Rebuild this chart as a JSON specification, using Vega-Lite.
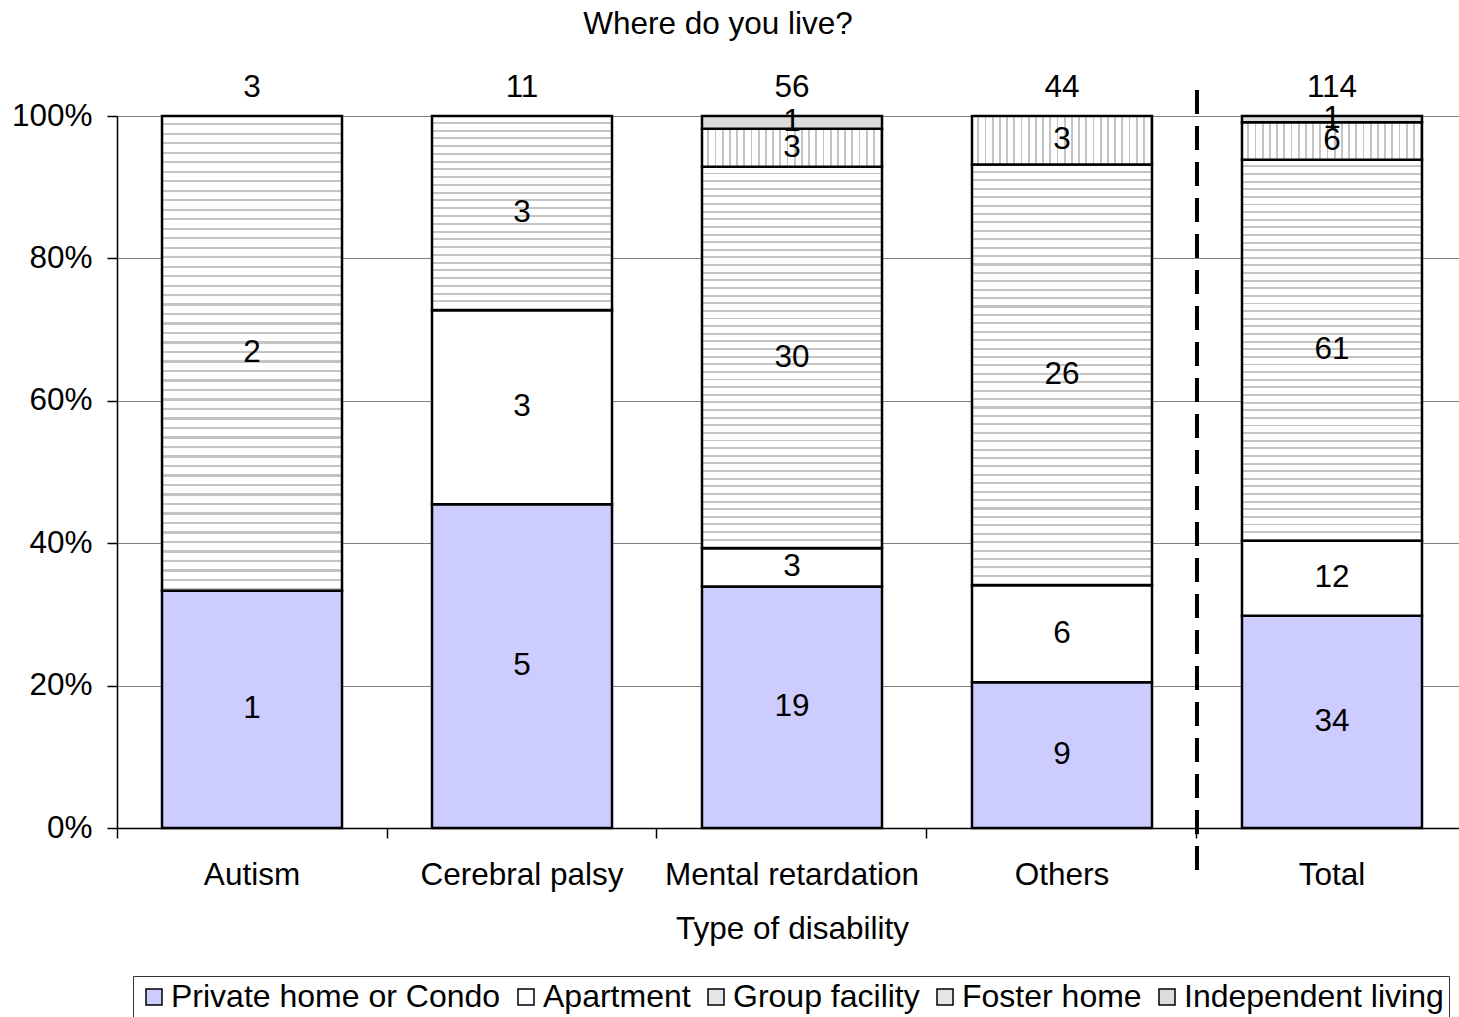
{
  "$schema": "https://vega.github.io/schema/vega-lite/v6.json",
  "autosize": {"type": "none"},
  "padding": {"left": 117, "top": 116, "right": 0, "bottom": 189},
  "width": 1342,
  "height": 712,
  "background": "white",
  "title": {
    "text": "Where do you live?",
    "fontSize": 31.5,
    "fontWeight": "normal",
    "color": "black",
    "anchor": "middle",
    "dx": -70,
    "offset": 32
  },
  "datasets": {
    "homes": [
      {"disability": "Autism", "residence": "Private home or Condo", "k": 1, "n": 1},
      {"disability": "Autism", "residence": "Group facility", "k": 3, "n": 2},
      {"disability": "Cerebral palsy", "residence": "Private home or Condo", "k": 1, "n": 5},
      {"disability": "Cerebral palsy", "residence": "Apartment", "k": 2, "n": 3},
      {"disability": "Cerebral palsy", "residence": "Group facility", "k": 3, "n": 3},
      {"disability": "Mental retardation", "residence": "Private home or Condo", "k": 1, "n": 19},
      {"disability": "Mental retardation", "residence": "Apartment", "k": 2, "n": 3},
      {"disability": "Mental retardation", "residence": "Group facility", "k": 3, "n": 30},
      {"disability": "Mental retardation", "residence": "Foster home", "k": 4, "n": 3},
      {"disability": "Mental retardation", "residence": "Independent living", "k": 5, "n": 1},
      {"disability": "Others", "residence": "Private home or Condo", "k": 1, "n": 9},
      {"disability": "Others", "residence": "Apartment", "k": 2, "n": 6},
      {"disability": "Others", "residence": "Group facility", "k": 3, "n": 26},
      {"disability": "Others", "residence": "Foster home", "k": 4, "n": 3},
      {"disability": "Total", "residence": "Private home or Condo", "k": 1, "n": 34},
      {"disability": "Total", "residence": "Apartment", "k": 2, "n": 12},
      {"disability": "Total", "residence": "Group facility", "k": 3, "n": 61},
      {"disability": "Total", "residence": "Foster home", "k": 4, "n": 6},
      {"disability": "Total", "residence": "Independent living", "k": 5, "n": 1}
    ],
    "divider": [{"disability": "Total"}]
  },
  "data": {"name": "homes"},
  "layer": [
    {
      "transform": [
        {"stack": "n", "groupby": ["disability"], "sort": [{"field": "k", "order": "ascending"}], "offset": "normalize", "as": ["lo", "hi"]}
      ],
      "mark": {"type": "bar", "stroke": "black", "strokeWidth": 2.5},
      "encoding": {
        "x": {
          "field": "disability",
          "type": "nominal",
          "title": "Type of disability",
          "scale": {
            "domain": ["Autism", "Cerebral palsy", "Mental retardation", "Others", "Total"],
            "range": [0, 1350],
            "paddingInner": 0.3333,
            "paddingOuter": 0.1667
          },
          "axis": {
            "labelAngle": 0,
            "labelFontSize": 31.5,
            "labelColor": "black",
            "labelPadding": 21,
            "labelLimit": 400,
            "bandPosition": -0.25,
            "tickSize": 10,
            "tickColor": "black",
            "tickWidth": 1.5,
            "domainColor": "black",
            "domainWidth": 1.5,
            "titleFontSize": 31.5,
            "titleFontWeight": "normal",
            "titleColor": "black",
            "titlePadding": 23
          }
        },
        "y": {
          "field": "lo",
          "type": "quantitative",
          "scale": {"domain": [0, 1], "nice": false},
          "axis": {
            "values": [0, 0.2, 0.4, 0.6, 0.8, 1],
            "format": ".0%",
            "title": null,
            "labelFontSize": 31.5,
            "labelColor": "black",
            "labelPadding": 15,
            "labelFlush": false,
            "tickSize": 10,
            "tickColor": "black",
            "tickWidth": 1.5,
            "domainColor": "black",
            "domainWidth": 1.5,
            "grid": true,
            "gridColor": "#808080",
            "gridWidth": 1
          }
        },
        "y2": {"field": "hi"},
        "fill": {
          "field": "residence",
          "type": "nominal",
          "scale": {
            "domain": ["Private home or Condo", "Apartment", "Group facility", "Foster home", "Independent living"],
            "range": ["#CCCCFF", "#FFFFFF", "#e6e6e6", "#e6e6e6", "#dcdcdc"]
          },
          "legend": {
            "title": null,
            "orient": "none",
            "legendX": 16,
            "legendY": 860,
            "direction": "horizontal",
            "columns": 5,
            "strokeColor": "#333",
            "padding": 5,
            "columnPadding": 9,
            "labelOffset": 1,
            "symbolSize": 256,
            "symbolType": "square",
            "labelFontSize": 32,
            "labelColor": "black",
            "labelLimit": 0,
            "encode": {
              "symbols": {
                "stroke": {"value": "black"},
                "strokeWidth": {"value": 1.5},
                "fill": {
                  "condition": [
                    {"test": "datum.value === 'Private home or Condo'", "value": "#CCCCFF"},
                    {"test": "datum.value === 'Independent living'", "value": "#d4d4d4"},
                    {
                      "test": "datum.value === 'Group facility'",
                      "value": {"gradient": "linear", "x1": 0, "y1": 0, "x2": 0, "y2": 1, "stops": [
                        {"offset": 0.2, "color": "#fff"}, {"offset": 0.2, "color": "#b8b8b8"}, {"offset": 0.33, "color": "#b8b8b8"}, {"offset": 0.33, "color": "#fff"},
                        {"offset": 0.53, "color": "#fff"}, {"offset": 0.53, "color": "#b8b8b8"}, {"offset": 0.67, "color": "#b8b8b8"}, {"offset": 0.67, "color": "#fff"},
                        {"offset": 0.87, "color": "#fff"}, {"offset": 0.87, "color": "#b8b8b8"}, {"offset": 1, "color": "#b8b8b8"}
                      ]}
                    },
                    {
                      "test": "datum.value === 'Foster home'",
                      "value": {"gradient": "linear", "x1": 0, "y1": 0, "x2": 1, "y2": 0, "stops": [
                        {"offset": 0.2, "color": "#fff"}, {"offset": 0.2, "color": "#b8b8b8"}, {"offset": 0.33, "color": "#b8b8b8"}, {"offset": 0.33, "color": "#fff"},
                        {"offset": 0.53, "color": "#fff"}, {"offset": 0.53, "color": "#b8b8b8"}, {"offset": 0.67, "color": "#b8b8b8"}, {"offset": 0.67, "color": "#fff"},
                        {"offset": 0.87, "color": "#fff"}, {"offset": 0.87, "color": "#b8b8b8"}, {"offset": 1, "color": "#b8b8b8"}
                      ]}
                    }
                  ],
                  "value": "#ffffff"
                }
              }
            }
          },
          "condition": [
            {
              "test": "datum.residence === 'Group facility' && datum.disability === 'Cerebral palsy'",
              "value": {"gradient": "linear", "x1": 0, "y1": 0, "x2": 0, "y2": 1, "stops": [
                {"offset": 0.03, "color": "#fff"}, {"offset": 0.03, "color": "#c4c4c4"}, {"offset": 0.04, "color": "#c4c4c4"}, {"offset": 0.04, "color": "#fff"},
                {"offset": 0.07, "color": "#fff"}, {"offset": 0.07, "color": "#c4c4c4"}, {"offset": 0.08, "color": "#c4c4c4"}, {"offset": 0.08, "color": "#fff"},
                {"offset": 0.11, "color": "#fff"}, {"offset": 0.11, "color": "#c4c4c4"}, {"offset": 0.12, "color": "#c4c4c4"}, {"offset": 0.12, "color": "#fff"},
                {"offset": 0.15, "color": "#fff"}, {"offset": 0.15, "color": "#c4c4c4"}, {"offset": 0.16, "color": "#c4c4c4"}, {"offset": 0.16, "color": "#fff"},
                {"offset": 0.19, "color": "#fff"}, {"offset": 0.19, "color": "#c4c4c4"}, {"offset": 0.2, "color": "#c4c4c4"}, {"offset": 0.2, "color": "#fff"},
                {"offset": 0.23, "color": "#fff"}, {"offset": 0.23, "color": "#c4c4c4"}, {"offset": 0.24, "color": "#c4c4c4"}, {"offset": 0.24, "color": "#fff"},
                {"offset": 0.27, "color": "#fff"}, {"offset": 0.27, "color": "#c4c4c4"}, {"offset": 0.28, "color": "#c4c4c4"}, {"offset": 0.28, "color": "#fff"},
                {"offset": 0.31, "color": "#fff"}, {"offset": 0.31, "color": "#c4c4c4"}, {"offset": 0.32, "color": "#c4c4c4"}, {"offset": 0.32, "color": "#fff"},
                {"offset": 0.35, "color": "#fff"}, {"offset": 0.35, "color": "#c4c4c4"}, {"offset": 0.36, "color": "#c4c4c4"}, {"offset": 0.36, "color": "#fff"},
                {"offset": 0.39, "color": "#fff"}, {"offset": 0.39, "color": "#c4c4c4"}, {"offset": 0.4, "color": "#c4c4c4"}, {"offset": 0.4, "color": "#fff"},
                {"offset": 0.43, "color": "#fff"}, {"offset": 0.43, "color": "#c4c4c4"}, {"offset": 0.44, "color": "#c4c4c4"}, {"offset": 0.44, "color": "#fff"},
                {"offset": 0.47, "color": "#fff"}, {"offset": 0.47, "color": "#c4c4c4"}, {"offset": 0.48, "color": "#c4c4c4"}, {"offset": 0.48, "color": "#fff"},
                {"offset": 0.51, "color": "#fff"}, {"offset": 0.51, "color": "#c4c4c4"}, {"offset": 0.52, "color": "#c4c4c4"}, {"offset": 0.52, "color": "#fff"},
                {"offset": 0.55, "color": "#fff"}, {"offset": 0.55, "color": "#c4c4c4"}, {"offset": 0.56, "color": "#c4c4c4"}, {"offset": 0.56, "color": "#fff"},
                {"offset": 0.59, "color": "#fff"}, {"offset": 0.59, "color": "#c4c4c4"}, {"offset": 0.6, "color": "#c4c4c4"}, {"offset": 0.6, "color": "#fff"},
                {"offset": 0.63, "color": "#fff"}, {"offset": 0.63, "color": "#c4c4c4"}, {"offset": 0.64, "color": "#c4c4c4"}, {"offset": 0.64, "color": "#fff"},
                {"offset": 0.67, "color": "#fff"}, {"offset": 0.67, "color": "#c4c4c4"}, {"offset": 0.68, "color": "#c4c4c4"}, {"offset": 0.68, "color": "#fff"},
                {"offset": 0.71, "color": "#fff"}, {"offset": 0.71, "color": "#c4c4c4"}, {"offset": 0.72, "color": "#c4c4c4"}, {"offset": 0.72, "color": "#fff"},
                {"offset": 0.75, "color": "#fff"}, {"offset": 0.75, "color": "#c4c4c4"}, {"offset": 0.76, "color": "#c4c4c4"}, {"offset": 0.76, "color": "#fff"},
                {"offset": 0.79, "color": "#fff"}, {"offset": 0.79, "color": "#c4c4c4"}, {"offset": 0.8, "color": "#c4c4c4"}, {"offset": 0.8, "color": "#fff"},
                {"offset": 0.83, "color": "#fff"}, {"offset": 0.83, "color": "#c4c4c4"}, {"offset": 0.84, "color": "#c4c4c4"}, {"offset": 0.84, "color": "#fff"},
                {"offset": 0.87, "color": "#fff"}, {"offset": 0.87, "color": "#c4c4c4"}, {"offset": 0.88, "color": "#c4c4c4"}, {"offset": 0.88, "color": "#fff"},
                {"offset": 0.91, "color": "#fff"}, {"offset": 0.91, "color": "#c4c4c4"}, {"offset": 0.92, "color": "#c4c4c4"}, {"offset": 0.92, "color": "#fff"},
                {"offset": 0.95, "color": "#fff"}, {"offset": 0.95, "color": "#c4c4c4"}, {"offset": 0.96, "color": "#c4c4c4"}, {"offset": 0.96, "color": "#fff"},
                {"offset": 0.99, "color": "#fff"}, {"offset": 0.99, "color": "#c4c4c4"}, {"offset": 1, "color": "#c4c4c4"}
              ]}
            },
            {
              "test": "datum.residence === 'Group facility'",
              "value": {"gradient": "linear", "x1": 0, "y1": 0, "x2": 0, "y2": 1, "stops": [
                {"offset": 0.015, "color": "#fff"}, {"offset": 0.015, "color": "#c4c4c4"}, {"offset": 0.02, "color": "#c4c4c4"}, {"offset": 0.02, "color": "#fff"},
                {"offset": 0.035, "color": "#fff"}, {"offset": 0.035, "color": "#c4c4c4"}, {"offset": 0.04, "color": "#c4c4c4"}, {"offset": 0.04, "color": "#fff"},
                {"offset": 0.055, "color": "#fff"}, {"offset": 0.055, "color": "#c4c4c4"}, {"offset": 0.06, "color": "#c4c4c4"}, {"offset": 0.06, "color": "#fff"},
                {"offset": 0.075, "color": "#fff"}, {"offset": 0.075, "color": "#c4c4c4"}, {"offset": 0.08, "color": "#c4c4c4"}, {"offset": 0.08, "color": "#fff"},
                {"offset": 0.095, "color": "#fff"}, {"offset": 0.095, "color": "#c4c4c4"}, {"offset": 0.1, "color": "#c4c4c4"}, {"offset": 0.1, "color": "#fff"},
                {"offset": 0.115, "color": "#fff"}, {"offset": 0.115, "color": "#c4c4c4"}, {"offset": 0.12, "color": "#c4c4c4"}, {"offset": 0.12, "color": "#fff"},
                {"offset": 0.135, "color": "#fff"}, {"offset": 0.135, "color": "#c4c4c4"}, {"offset": 0.14, "color": "#c4c4c4"}, {"offset": 0.14, "color": "#fff"},
                {"offset": 0.155, "color": "#fff"}, {"offset": 0.155, "color": "#c4c4c4"}, {"offset": 0.16, "color": "#c4c4c4"}, {"offset": 0.16, "color": "#fff"},
                {"offset": 0.175, "color": "#fff"}, {"offset": 0.175, "color": "#c4c4c4"}, {"offset": 0.18, "color": "#c4c4c4"}, {"offset": 0.18, "color": "#fff"},
                {"offset": 0.195, "color": "#fff"}, {"offset": 0.195, "color": "#c4c4c4"}, {"offset": 0.2, "color": "#c4c4c4"}, {"offset": 0.2, "color": "#fff"},
                {"offset": 0.215, "color": "#fff"}, {"offset": 0.215, "color": "#c4c4c4"}, {"offset": 0.22, "color": "#c4c4c4"}, {"offset": 0.22, "color": "#fff"},
                {"offset": 0.235, "color": "#fff"}, {"offset": 0.235, "color": "#c4c4c4"}, {"offset": 0.24, "color": "#c4c4c4"}, {"offset": 0.24, "color": "#fff"},
                {"offset": 0.255, "color": "#fff"}, {"offset": 0.255, "color": "#c4c4c4"}, {"offset": 0.26, "color": "#c4c4c4"}, {"offset": 0.26, "color": "#fff"},
                {"offset": 0.275, "color": "#fff"}, {"offset": 0.275, "color": "#c4c4c4"}, {"offset": 0.28, "color": "#c4c4c4"}, {"offset": 0.28, "color": "#fff"},
                {"offset": 0.295, "color": "#fff"}, {"offset": 0.295, "color": "#c4c4c4"}, {"offset": 0.3, "color": "#c4c4c4"}, {"offset": 0.3, "color": "#fff"},
                {"offset": 0.315, "color": "#fff"}, {"offset": 0.315, "color": "#c4c4c4"}, {"offset": 0.32, "color": "#c4c4c4"}, {"offset": 0.32, "color": "#fff"},
                {"offset": 0.335, "color": "#fff"}, {"offset": 0.335, "color": "#c4c4c4"}, {"offset": 0.34, "color": "#c4c4c4"}, {"offset": 0.34, "color": "#fff"},
                {"offset": 0.355, "color": "#fff"}, {"offset": 0.355, "color": "#c4c4c4"}, {"offset": 0.36, "color": "#c4c4c4"}, {"offset": 0.36, "color": "#fff"},
                {"offset": 0.375, "color": "#fff"}, {"offset": 0.375, "color": "#c4c4c4"}, {"offset": 0.38, "color": "#c4c4c4"}, {"offset": 0.38, "color": "#fff"},
                {"offset": 0.395, "color": "#fff"}, {"offset": 0.395, "color": "#c4c4c4"}, {"offset": 0.4, "color": "#c4c4c4"}, {"offset": 0.4, "color": "#fff"},
                {"offset": 0.415, "color": "#fff"}, {"offset": 0.415, "color": "#c4c4c4"}, {"offset": 0.42, "color": "#c4c4c4"}, {"offset": 0.42, "color": "#fff"},
                {"offset": 0.435, "color": "#fff"}, {"offset": 0.435, "color": "#c4c4c4"}, {"offset": 0.44, "color": "#c4c4c4"}, {"offset": 0.44, "color": "#fff"},
                {"offset": 0.455, "color": "#fff"}, {"offset": 0.455, "color": "#c4c4c4"}, {"offset": 0.46, "color": "#c4c4c4"}, {"offset": 0.46, "color": "#fff"},
                {"offset": 0.475, "color": "#fff"}, {"offset": 0.475, "color": "#c4c4c4"}, {"offset": 0.48, "color": "#c4c4c4"}, {"offset": 0.48, "color": "#fff"},
                {"offset": 0.495, "color": "#fff"}, {"offset": 0.495, "color": "#c4c4c4"}, {"offset": 0.5, "color": "#c4c4c4"}, {"offset": 0.5, "color": "#fff"},
                {"offset": 0.515, "color": "#fff"}, {"offset": 0.515, "color": "#c4c4c4"}, {"offset": 0.52, "color": "#c4c4c4"}, {"offset": 0.52, "color": "#fff"},
                {"offset": 0.535, "color": "#fff"}, {"offset": 0.535, "color": "#c4c4c4"}, {"offset": 0.54, "color": "#c4c4c4"}, {"offset": 0.54, "color": "#fff"},
                {"offset": 0.555, "color": "#fff"}, {"offset": 0.555, "color": "#c4c4c4"}, {"offset": 0.56, "color": "#c4c4c4"}, {"offset": 0.56, "color": "#fff"},
                {"offset": 0.575, "color": "#fff"}, {"offset": 0.575, "color": "#c4c4c4"}, {"offset": 0.58, "color": "#c4c4c4"}, {"offset": 0.58, "color": "#fff"},
                {"offset": 0.595, "color": "#fff"}, {"offset": 0.595, "color": "#c4c4c4"}, {"offset": 0.6, "color": "#c4c4c4"}, {"offset": 0.6, "color": "#fff"},
                {"offset": 0.615, "color": "#fff"}, {"offset": 0.615, "color": "#c4c4c4"}, {"offset": 0.62, "color": "#c4c4c4"}, {"offset": 0.62, "color": "#fff"},
                {"offset": 0.635, "color": "#fff"}, {"offset": 0.635, "color": "#c4c4c4"}, {"offset": 0.64, "color": "#c4c4c4"}, {"offset": 0.64, "color": "#fff"},
                {"offset": 0.655, "color": "#fff"}, {"offset": 0.655, "color": "#c4c4c4"}, {"offset": 0.66, "color": "#c4c4c4"}, {"offset": 0.66, "color": "#fff"},
                {"offset": 0.675, "color": "#fff"}, {"offset": 0.675, "color": "#c4c4c4"}, {"offset": 0.68, "color": "#c4c4c4"}, {"offset": 0.68, "color": "#fff"},
                {"offset": 0.695, "color": "#fff"}, {"offset": 0.695, "color": "#c4c4c4"}, {"offset": 0.7, "color": "#c4c4c4"}, {"offset": 0.7, "color": "#fff"},
                {"offset": 0.715, "color": "#fff"}, {"offset": 0.715, "color": "#c4c4c4"}, {"offset": 0.72, "color": "#c4c4c4"}, {"offset": 0.72, "color": "#fff"},
                {"offset": 0.735, "color": "#fff"}, {"offset": 0.735, "color": "#c4c4c4"}, {"offset": 0.74, "color": "#c4c4c4"}, {"offset": 0.74, "color": "#fff"},
                {"offset": 0.755, "color": "#fff"}, {"offset": 0.755, "color": "#c4c4c4"}, {"offset": 0.76, "color": "#c4c4c4"}, {"offset": 0.76, "color": "#fff"},
                {"offset": 0.775, "color": "#fff"}, {"offset": 0.775, "color": "#c4c4c4"}, {"offset": 0.78, "color": "#c4c4c4"}, {"offset": 0.78, "color": "#fff"},
                {"offset": 0.795, "color": "#fff"}, {"offset": 0.795, "color": "#c4c4c4"}, {"offset": 0.8, "color": "#c4c4c4"}, {"offset": 0.8, "color": "#fff"},
                {"offset": 0.815, "color": "#fff"}, {"offset": 0.815, "color": "#c4c4c4"}, {"offset": 0.82, "color": "#c4c4c4"}, {"offset": 0.82, "color": "#fff"},
                {"offset": 0.835, "color": "#fff"}, {"offset": 0.835, "color": "#c4c4c4"}, {"offset": 0.84, "color": "#c4c4c4"}, {"offset": 0.84, "color": "#fff"},
                {"offset": 0.855, "color": "#fff"}, {"offset": 0.855, "color": "#c4c4c4"}, {"offset": 0.86, "color": "#c4c4c4"}, {"offset": 0.86, "color": "#fff"},
                {"offset": 0.875, "color": "#fff"}, {"offset": 0.875, "color": "#c4c4c4"}, {"offset": 0.88, "color": "#c4c4c4"}, {"offset": 0.88, "color": "#fff"},
                {"offset": 0.895, "color": "#fff"}, {"offset": 0.895, "color": "#c4c4c4"}, {"offset": 0.9, "color": "#c4c4c4"}, {"offset": 0.9, "color": "#fff"},
                {"offset": 0.915, "color": "#fff"}, {"offset": 0.915, "color": "#c4c4c4"}, {"offset": 0.92, "color": "#c4c4c4"}, {"offset": 0.92, "color": "#fff"},
                {"offset": 0.935, "color": "#fff"}, {"offset": 0.935, "color": "#c4c4c4"}, {"offset": 0.94, "color": "#c4c4c4"}, {"offset": 0.94, "color": "#fff"},
                {"offset": 0.955, "color": "#fff"}, {"offset": 0.955, "color": "#c4c4c4"}, {"offset": 0.96, "color": "#c4c4c4"}, {"offset": 0.96, "color": "#fff"},
                {"offset": 0.975, "color": "#fff"}, {"offset": 0.975, "color": "#c4c4c4"}, {"offset": 0.98, "color": "#c4c4c4"}, {"offset": 0.98, "color": "#fff"},
                {"offset": 0.995, "color": "#fff"}, {"offset": 0.995, "color": "#c4c4c4"}, {"offset": 1, "color": "#c4c4c4"}
              ]}
            },
            {
              "test": "datum.residence === 'Foster home'",
              "value": {"gradient": "linear", "x1": 0, "y1": 0, "x2": 1, "y2": 0, "stops": [
                {"offset": 0.03, "color": "#fff"}, {"offset": 0.03, "color": "#c4c4c4"}, {"offset": 0.04, "color": "#c4c4c4"}, {"offset": 0.04, "color": "#fff"},
                {"offset": 0.07, "color": "#fff"}, {"offset": 0.07, "color": "#c4c4c4"}, {"offset": 0.08, "color": "#c4c4c4"}, {"offset": 0.08, "color": "#fff"},
                {"offset": 0.11, "color": "#fff"}, {"offset": 0.11, "color": "#c4c4c4"}, {"offset": 0.12, "color": "#c4c4c4"}, {"offset": 0.12, "color": "#fff"},
                {"offset": 0.15, "color": "#fff"}, {"offset": 0.15, "color": "#c4c4c4"}, {"offset": 0.16, "color": "#c4c4c4"}, {"offset": 0.16, "color": "#fff"},
                {"offset": 0.19, "color": "#fff"}, {"offset": 0.19, "color": "#c4c4c4"}, {"offset": 0.2, "color": "#c4c4c4"}, {"offset": 0.2, "color": "#fff"},
                {"offset": 0.23, "color": "#fff"}, {"offset": 0.23, "color": "#c4c4c4"}, {"offset": 0.24, "color": "#c4c4c4"}, {"offset": 0.24, "color": "#fff"},
                {"offset": 0.27, "color": "#fff"}, {"offset": 0.27, "color": "#c4c4c4"}, {"offset": 0.28, "color": "#c4c4c4"}, {"offset": 0.28, "color": "#fff"},
                {"offset": 0.31, "color": "#fff"}, {"offset": 0.31, "color": "#c4c4c4"}, {"offset": 0.32, "color": "#c4c4c4"}, {"offset": 0.32, "color": "#fff"},
                {"offset": 0.35, "color": "#fff"}, {"offset": 0.35, "color": "#c4c4c4"}, {"offset": 0.36, "color": "#c4c4c4"}, {"offset": 0.36, "color": "#fff"},
                {"offset": 0.39, "color": "#fff"}, {"offset": 0.39, "color": "#c4c4c4"}, {"offset": 0.4, "color": "#c4c4c4"}, {"offset": 0.4, "color": "#fff"},
                {"offset": 0.43, "color": "#fff"}, {"offset": 0.43, "color": "#c4c4c4"}, {"offset": 0.44, "color": "#c4c4c4"}, {"offset": 0.44, "color": "#fff"},
                {"offset": 0.47, "color": "#fff"}, {"offset": 0.47, "color": "#c4c4c4"}, {"offset": 0.48, "color": "#c4c4c4"}, {"offset": 0.48, "color": "#fff"},
                {"offset": 0.51, "color": "#fff"}, {"offset": 0.51, "color": "#c4c4c4"}, {"offset": 0.52, "color": "#c4c4c4"}, {"offset": 0.52, "color": "#fff"},
                {"offset": 0.55, "color": "#fff"}, {"offset": 0.55, "color": "#c4c4c4"}, {"offset": 0.56, "color": "#c4c4c4"}, {"offset": 0.56, "color": "#fff"},
                {"offset": 0.59, "color": "#fff"}, {"offset": 0.59, "color": "#c4c4c4"}, {"offset": 0.6, "color": "#c4c4c4"}, {"offset": 0.6, "color": "#fff"},
                {"offset": 0.63, "color": "#fff"}, {"offset": 0.63, "color": "#c4c4c4"}, {"offset": 0.64, "color": "#c4c4c4"}, {"offset": 0.64, "color": "#fff"},
                {"offset": 0.67, "color": "#fff"}, {"offset": 0.67, "color": "#c4c4c4"}, {"offset": 0.68, "color": "#c4c4c4"}, {"offset": 0.68, "color": "#fff"},
                {"offset": 0.71, "color": "#fff"}, {"offset": 0.71, "color": "#c4c4c4"}, {"offset": 0.72, "color": "#c4c4c4"}, {"offset": 0.72, "color": "#fff"},
                {"offset": 0.75, "color": "#fff"}, {"offset": 0.75, "color": "#c4c4c4"}, {"offset": 0.76, "color": "#c4c4c4"}, {"offset": 0.76, "color": "#fff"},
                {"offset": 0.79, "color": "#fff"}, {"offset": 0.79, "color": "#c4c4c4"}, {"offset": 0.8, "color": "#c4c4c4"}, {"offset": 0.8, "color": "#fff"},
                {"offset": 0.83, "color": "#fff"}, {"offset": 0.83, "color": "#c4c4c4"}, {"offset": 0.84, "color": "#c4c4c4"}, {"offset": 0.84, "color": "#fff"},
                {"offset": 0.87, "color": "#fff"}, {"offset": 0.87, "color": "#c4c4c4"}, {"offset": 0.88, "color": "#c4c4c4"}, {"offset": 0.88, "color": "#fff"},
                {"offset": 0.91, "color": "#fff"}, {"offset": 0.91, "color": "#c4c4c4"}, {"offset": 0.92, "color": "#c4c4c4"}, {"offset": 0.92, "color": "#fff"},
                {"offset": 0.95, "color": "#fff"}, {"offset": 0.95, "color": "#c4c4c4"}, {"offset": 0.96, "color": "#c4c4c4"}, {"offset": 0.96, "color": "#fff"},
                {"offset": 0.99, "color": "#fff"}, {"offset": 0.99, "color": "#c4c4c4"}, {"offset": 1, "color": "#c4c4c4"}
              ]}
            }
          ]
        }
      }
    },
    {
      "transform": [
        {"stack": "n", "groupby": ["disability"], "sort": [{"field": "k", "order": "ascending"}], "offset": "normalize", "as": ["lo", "hi"]},
        {"calculate": "(datum.lo + datum.hi) / 2", "as": "mid"}
      ],
      "mark": {"type": "text", "fontSize": 31.5, "color": "black", "baseline": "middle", "align": "center"},
      "encoding": {
        "x": {"field": "disability", "type": "nominal"},
        "y": {"field": "mid", "type": "quantitative"},
        "text": {"field": "n", "type": "quantitative"}
      }
    },
    {
      "transform": [
        {"aggregate": [{"op": "sum", "field": "n", "as": "total"}], "groupby": ["disability"]}
      ],
      "mark": {"type": "text", "fontSize": 31.5, "color": "black", "baseline": "middle", "align": "center", "dy": -28},
      "encoding": {
        "x": {"field": "disability", "type": "nominal"},
        "y": {"datum": 1},
        "text": {"field": "total", "type": "quantitative"}
      }
    },
    {
      "data": {"name": "divider"},
      "mark": {"type": "rule", "color": "black", "strokeWidth": 4, "strokeDash": [24, 12]},
      "encoding": {
        "x": {"field": "disability", "type": "nominal", "bandPosition": -0.25},
        "y": {"datum": 1.0365},
        "y2": {"datum": -0.073}
      }
    }
  ],
  "config": {
    "font": "Liberation Sans",
    "view": {"stroke": null},
    "text": {"font": "Liberation Sans"}
  }
}
